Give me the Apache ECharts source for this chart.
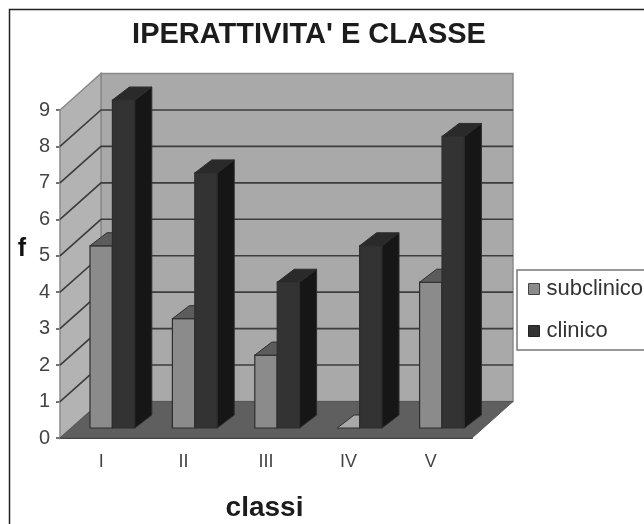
<!DOCTYPE html>
<html><head><meta charset="utf-8">
<style>html,body{margin:0;padding:0;background:#fff}#c{width:644px;height:524px;filter:blur(0.45px)}</style>
<script src="https://cdn.jsdelivr.net/npm/echarts@6/dist/echarts.min.js"></script>
</head><body><div id="c"></div>
<script>
const categories = ['I','II','III','IV','V'];
const subclinico = [5,3,2,0,4];
const clinico = [9,7,4,5,8];
const yTicks = [0,1,2,3,4,5,6,7,8,9];

const DX = 41, DY = -36.5;        // wall depth in pixels
const BDX = 17, BDY = -13, BASE = 10; // bar depth, bar inset from the front edge
const C_WALL = '#a9a9a9', C_SIDE = '#b3b3b3', C_FLOOR = '#5f5f5f', C_GRID = '#3c3c3c';
const C_SUB = ['#8b8b8b','#5c5c5c','#4a4a4a'];
const C_CLI = ['#333333','#2a2a2a','#161616'];
const LINE = '#2e2e2e';

const poly = (pts, fill, stroke, w) => ({type:'polygon', shape:{points:pts},
  style:{fill:fill, stroke:stroke||null, lineWidth:w||0}, silent:true});
const line = (pts, stroke, w) => ({type:'polyline', shape:{points:pts},
  style:{fill:null, stroke:stroke, lineWidth:w}, silent:true});

function renderWalls(params, api){
  const n = categories.length;
  const l = api.coord([0,0]);
  const band = api.size([1,0])[0];
  const x0 = l[0]-band/2, x1 = x0+band*n, y0 = l[1];
  const yT = api.coord([0,9])[1];
  return {type:'group', children:[
    poly([[x0+DX,yT+DY],[x1+DX,yT+DY],[x1+DX,y0+DY],[x0+DX,y0+DY]], C_WALL, '#8a8a8a', 1.5),
    poly([[x0,yT],[x0+DX,yT+DY],[x0+DX,y0+DY],[x0,y0]], C_SIDE, '#8a8a8a', 1.5),
    poly([[x0,y0],[x0+DX,y0+DY],[x1+DX,y0+DY],[x1,y0]], C_FLOOR, '#555', 1)
  ]};
}
function renderGrid(params, api){
  const v = api.value(0);
  if (v === 0 || v === 9) return {type:'group', children:[]};
  const l = api.coord([0,v]);
  const band = api.size([1,0])[0];
  const x0 = l[0]-band/2, x1 = x0+band*categories.length, y = l[1];
  return line([[x0,y],[x0+DX,y+DY],[x1+DX,y+DY]], C_GRID, 1.6);
}
function barRenderer(colors, offset){
  return function(params, api){
    const c = api.value(0), v = api.value(1);
    const p = api.coord([c,v]), b = api.coord([c,0]);
    const band = api.size([1,0])[0];
    const w = band*0.272;
    const x = p[0]-band/2 + band*offset, xr = x+w;
    const yb = b[1]-BASE, yt = p[1]-BASE;
    if (v === 0) {
      return poly([[x,yb],[xr,yb],[xr+BDX,yb+BDY],[x+BDX,yb+BDY]], '#a9a9a9', LINE, 1);
    }
    return {type:'group', children:[
      poly([[x,yb],[xr,yb],[xr,yt],[x,yt]], colors[0], LINE, 1.2),
      poly([[x,yt],[xr,yt],[xr+BDX,yt+BDY],[x+BDX,yt+BDY]], colors[1], LINE, 1),
      poly([[xr,yb],[xr+BDX,yb+BDY],[xr+BDX,yt+BDY],[xr,yt]], colors[2], LINE, 1)
    ]};
  };
}
const font = 'Liberation Sans';
const chart = echarts.init(document.getElementById('c'), null, {renderer:'canvas'});
chart.setOption({
  animation:false,
  backgroundColor:'#fff',
  title:[
    {text:"IPERATTIVITA' E CLASSE", left:304, top:15, textAlign:'center',
     textStyle:{fontFamily:font,fontSize:29,fontWeight:'bold',color:'#1c1c1c'}}
  ],
  grid:{left:60,right:172,top:110,bottom:86,outerBoundsMode:'none'},
  xAxis:{type:'category',data:categories,name:'classi',nameLocation:'middle',nameGap:56,
    nameTextStyle:{fontFamily:font,fontSize:28,fontWeight:'bold',color:'#1c1c1c',padding:[0,3,0,0]},
    axisLine:{lineStyle:{color:'#333',width:2}},
    axisTick:{length:7,lineStyle:{color:'#444',width:1.5}},
    axisLabel:{fontFamily:font,fontSize:18,color:'#444',margin:15},
    splitLine:{show:false}},
  yAxis:{type:'value',min:0,max:9,interval:1,name:'f',nameLocation:'middle',nameGap:34,nameRotate:0,
    nameTextStyle:{fontFamily:font,fontSize:25,fontWeight:'bold',color:'#111',verticalAlign:'bottom',padding:[0,0,12,0]},
    axisLine:{show:true,lineStyle:{color:'#888',width:1}},
    axisTick:{show:true,length:4,lineStyle:{color:'#444',width:1.5}},
    axisLabel:{fontFamily:font,fontSize:20,color:'#444',margin:10,formatter:v=>String(v)},
    splitLine:{show:false}},
  legend:{orient:'vertical',left:517,top:270,padding:[8,60,8,11],itemGap:20,
    backgroundColor:'#fff',borderColor:'#777',borderWidth:1.5,
    itemWidth:11,itemHeight:11,icon:'rect',
    textStyle:{fontFamily:font,fontSize:22,color:'#333',padding:[0,0,0,2]},
    data:[{name:'subclinico',itemStyle:{color:C_SUB[0],borderColor:'#444',borderWidth:1}},
          {name:'clinico',itemStyle:{color:C_CLI[0],borderColor:'#222',borderWidth:1}}]},
  graphic:[{type:'polyline',shape:{points:[[9.5,524],[9.5,9.5],[644,9.5]]},style:{fill:null,stroke:'#222',lineWidth:1.5},silent:true}],
  series:[
    {type:'custom',name:'walls',z:1,silent:true,clip:false,renderItem:renderWalls,data:[[0]],encode:{x:0}},
    {type:'custom',name:'grid',z:2,silent:true,clip:false,renderItem:renderGrid,data:yTicks.map(v=>[v]),encode:{y:0}},
    {type:'custom',name:'subclinico',z:3,silent:true,clip:false,itemStyle:{color:C_SUB[0]},
      renderItem:barRenderer(C_SUB,0.364),data:subclinico.map((v,i)=>[i,v]),encode:{x:0,y:1}},
    {type:'custom',name:'clinico',z:3,silent:true,clip:false,itemStyle:{color:C_CLI[0]},
      renderItem:barRenderer(C_CLI,0.636),data:clinico.map((v,i)=>[i,v]),encode:{x:0,y:1}}
  ]
});
</script></body></html>
